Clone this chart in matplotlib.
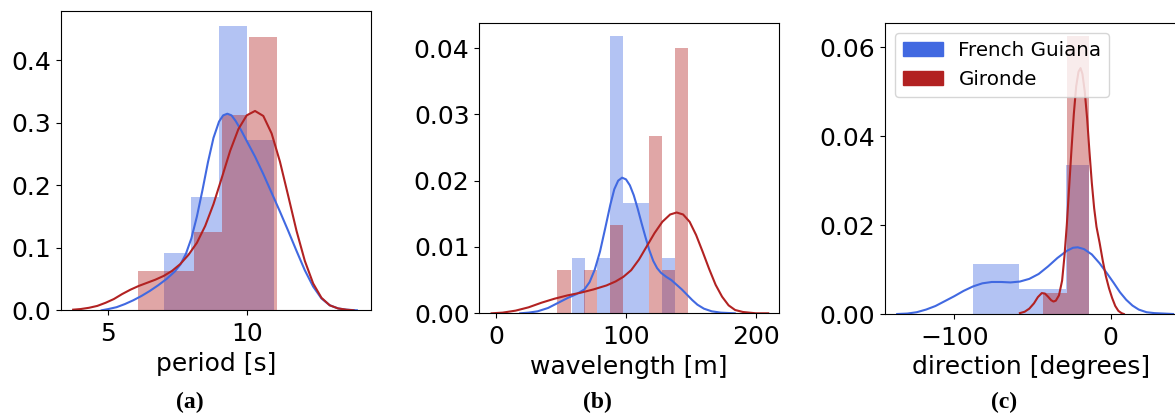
import matplotlib
matplotlib.use("Agg")
import matplotlib.pyplot as plt
from matplotlib.patches import Patch
import numpy as np

BLUE = "royalblue"
RED = "firebrick"

# ---------------- (a) period ----------------
period_fg_edges = [7.0, 8.0, 9.0, 10.0, 11.0]
period_fg_density = [0.0909, 0.1818, 0.4545, 0.2727]
period_gi_edges = [6.08, 7.08, 8.09, 9.09, 10.09, 11.10]
period_gi_density = [0.0625, 0.0625, 0.125, 0.3125, 0.4375]

period_fg_kde_x = [4.76, 5.0, 5.3, 5.6, 5.9, 6.2, 6.5, 6.8, 7.1, 7.4, 7.6, 7.8, 8.0, 8.2, 8.4, 8.6,
                   8.8, 9.0, 9.15, 9.3, 9.45, 9.6, 9.8, 10.0, 10.3, 10.6, 10.9, 11.2, 11.5, 11.8,
                   12.1, 12.4, 12.7, 13.0, 13.3, 13.6, 13.98]
period_fg_kde_y = [0.0, 0.002, 0.005, 0.010, 0.016, 0.023, 0.031, 0.040, 0.050, 0.062, 0.073, 0.090,
                   0.115, 0.150, 0.192, 0.237, 0.276, 0.302, 0.312, 0.3146, 0.312, 0.303, 0.288,
                   0.271, 0.246, 0.218, 0.188, 0.158, 0.127, 0.095, 0.064, 0.038, 0.019, 0.008,
                   0.003, 0.001, 0.0]
period_gi_kde_x = [3.73, 4.0, 4.3, 4.6, 4.9, 5.2, 5.5, 5.8, 6.1, 6.4, 6.7, 7.0, 7.3, 7.6, 7.9, 8.2,
                   8.5, 8.8, 9.1, 9.4, 9.7, 10.0, 10.3, 10.6, 10.9, 11.2, 11.5, 11.8, 12.1, 12.4,
                   12.7, 13.0, 13.3, 13.6, 13.86]
period_gi_kde_y = [0.001, 0.002, 0.004, 0.007, 0.012, 0.018, 0.026, 0.033, 0.039, 0.044, 0.049,
                   0.055, 0.063, 0.074, 0.089, 0.108, 0.135, 0.170, 0.212, 0.255, 0.290, 0.312,
                   0.319, 0.311, 0.283, 0.238, 0.183, 0.127, 0.079, 0.043, 0.020, 0.008, 0.003,
                   0.001, 0.0]

# ---------------- (b) wavelength ----------------
wave_fg_edges = [58.1, 68.1, 78.0, 88.0, 97.9, 107.9, 117.9, 127.8, 137.8]
wave_fg_density = [0.0084, 0.0, 0.0084, 0.0418, 0.0167, 0.0167, 0.0, 0.0084]
wave_gi_edges = [47.0, 57.6, 67.7, 77.8, 87.9, 98.0, 108.0, 118.1, 127.7, 137.8, 148.1]
wave_gi_density = [0.0066, 0.0, 0.0066, 0.0, 0.0133, 0.0, 0.0, 0.0267, 0.0066, 0.0400]

wave_fg_kde_x = [18.6, 25, 32, 40, 48, 55, 62, 68, 72, 76, 80, 84, 88, 91, 94, 97, 100, 103, 106,
                 109, 112, 115, 118, 121, 124, 127, 131, 135, 139, 143, 147, 151, 155, 160, 166,
                 173, 183.7]
wave_fg_kde_y = [0.0, 0.0001, 0.0003, 0.0008, 0.0016, 0.0023, 0.0029, 0.0036, 0.0047, 0.0066,
                 0.0093, 0.0128, 0.0164, 0.0187, 0.0200, 0.02045, 0.0202, 0.0193, 0.0178, 0.0158,
                 0.0136, 0.0115, 0.0095, 0.0079, 0.0068, 0.0061, 0.0055, 0.0050, 0.0043, 0.0036,
                 0.0028, 0.0020, 0.0013, 0.0007, 0.0003, 0.0001, 0.0]
wave_gi_kde_x = [-3.4, 5, 15, 25, 35, 45, 55, 65, 75, 85, 92, 98, 104, 110, 116, 122, 128, 134,
                 139, 144, 149, 154, 159, 164, 169, 174, 179, 184, 190, 200, 209.5]
wave_gi_kde_y = [0.0, 0.0001, 0.0004, 0.0009, 0.0016, 0.0022, 0.0027, 0.0031, 0.0036, 0.0042,
                 0.0048, 0.0055, 0.0065, 0.0081, 0.0101, 0.0121, 0.0138, 0.0149, 0.0152, 0.0149,
                 0.0138, 0.0118, 0.0093, 0.0067, 0.0043, 0.0025, 0.0012, 0.0005, 0.0002, 0.0, 0.0]

# ---------------- (c) direction ----------------
dir_fg_edges = [-87.8, -73.0, -58.3, -43.5, -28.7, -13.9]
dir_fg_density = [0.0112, 0.0112, 0.0056, 0.0056, 0.0336]
dir_gi_edges = [-43.1, -28.1, -13.6]
dir_gi_density = [0.0047, 0.0625]

dir_fg_kde_x = [-136.5, -130, -124, -118, -112, -106, -100, -94, -88, -82, -76, -70, -64, -58,
                -52, -46, -40, -34, -28, -24, -21, -17, -12, -7, -2, 2, 6, 10, 14, 18, 23, 28,
                34, 40]
dir_fg_kde_y = [0.0, 0.0001, 0.0004, 0.0010, 0.0018, 0.0029, 0.0040, 0.0052, 0.0062, 0.0069,
                0.0072, 0.0072, 0.0071, 0.0073, 0.0079, 0.0090, 0.0107, 0.0126, 0.0142, 0.0149,
                0.0150, 0.0146, 0.0134, 0.0114, 0.0090, 0.0070, 0.0049, 0.0032, 0.0019, 0.0010,
                0.0004, 0.0002, 0.0001, 0.0]
dir_gi_kde_x = [-58, -55, -52, -49, -46.5, -44, -42, -40, -38, -36.5, -35, -33, -31, -29.5, -28,
                -26.5, -25, -23.5, -22, -20.5, -19.2, -18, -16.5, -15, -13.5, -12, -10.5, -9,
                -7, -5, -3, -1, 1, 3, 5, 7, 8.5]
dir_gi_kde_y = [0.0002, 0.0005, 0.0012, 0.0024, 0.0038, 0.0047, 0.0046, 0.0039, 0.0031, 0.0028,
                0.0030, 0.0042, 0.0075, 0.0130, 0.0200, 0.0285, 0.0370, 0.0450, 0.0512, 0.0545,
                0.0553, 0.0540, 0.0500, 0.0440, 0.0365, 0.0295, 0.0238, 0.0196, 0.0160, 0.0120,
                0.0085, 0.0058, 0.0036, 0.0018, 0.0007, 0.0002, 0.0]

labels = ["French Guiana", "Gironde"]

fig = plt.figure(figsize=(11.75, 4.13), dpi=100)
W, H = 1175.0, 413.0


def axes_px(left, top, right, bottom):
    return fig.add_axes([left / W, 1 - bottom / H, (right - left) / W, (bottom - top) / H])


def draw_hist(ax, edges, dens, color):
    edges = np.asarray(edges)
    ax.bar(edges[:-1], dens, width=np.diff(edges), align="edge", color=color,
           alpha=0.4, linewidth=0)


FS = 18

panels = [
    dict(box=(60.7, 11.3, 371.0, 310.3),
         fg=(period_fg_edges, period_fg_density, period_fg_kde_x, period_fg_kde_y),
         gi=(period_gi_edges, period_gi_density, period_gi_kde_x, period_gi_kde_y),
         xlim=(3.28, 14.49), ylim=(0, 0.4785), xticks=[5, 10], yticks=[0.0, 0.1, 0.2, 0.3, 0.4],
         yfmt="{:.1f}", xlabel="period [s]", cap="(a)", capx=190),
    dict(box=(479.3, 23.3, 779.0, 313.3),
         fg=(wave_fg_edges, wave_fg_density, wave_fg_kde_x, wave_fg_kde_y),
         gi=(wave_gi_edges, wave_gi_density, wave_gi_kde_x, wave_gi_kde_y),
         xlim=(-12.9, 217.8), ylim=(0, 0.04373), xticks=[0, 100, 200], yticks=[0.0, 0.01, 0.02, 0.03, 0.04],
         yfmt="{:.2f}", xlabel="wavelength [m]", cap="(b)", capx=597),
    dict(box=(885.0, 23.3, 1177.0, 314.0),
         fg=(dir_fg_edges, dir_fg_density, dir_fg_kde_x, dir_fg_kde_y),
         gi=(dir_gi_edges, dir_gi_density, dir_gi_kde_x, dir_gi_kde_y),
         xlim=(-144.3, 42.5), ylim=(0, 0.06538), xticks=[-100, 0], yticks=[0.0, 0.02, 0.04, 0.06],
         yfmt="{:.2f}", xlabel="direction [degrees]", cap="(c)", capx=1004),
]

for i, p in enumerate(panels):
    ax = axes_px(*p["box"])
    for (edges, dens, kx, ky), color in ((p["fg"], BLUE), (p["gi"], RED)):
        draw_hist(ax, edges, dens, color)
    for (edges, dens, kx, ky), color in ((p["fg"], BLUE), (p["gi"], RED)):
        ax.plot(kx, ky, color=color, lw=1.5, solid_joinstyle="round")
    ax.set_xlim(*p["xlim"])
    ax.set_ylim(*p["ylim"])
    ax.set_xticks(p["xticks"])
    ax.set_xticklabels([("\u2212" + str(abs(t))) if t < 0 else str(t) for t in p["xticks"]])
    ax.set_yticks(p["yticks"])
    ax.set_yticklabels([p["yfmt"].format(t) for t in p["yticks"]])
    ax.tick_params(labelsize=FS)
    ax.tick_params(axis="x", pad=5)
    ax.set_xlabel(p["xlabel"], fontsize=FS, labelpad=4)
    if i == 2:
        handles = [Patch(color=BLUE), Patch(color=RED)]
        ax.legend(handles, labels, loc="upper left", fontsize=14.3)
    fig.text(p["capx"] / W, 1 - 402 / H, p["cap"], ha="center", va="center",
             fontsize=17, fontweight="bold", family="Liberation Serif")

fig.savefig("out.png", dpi=100)
